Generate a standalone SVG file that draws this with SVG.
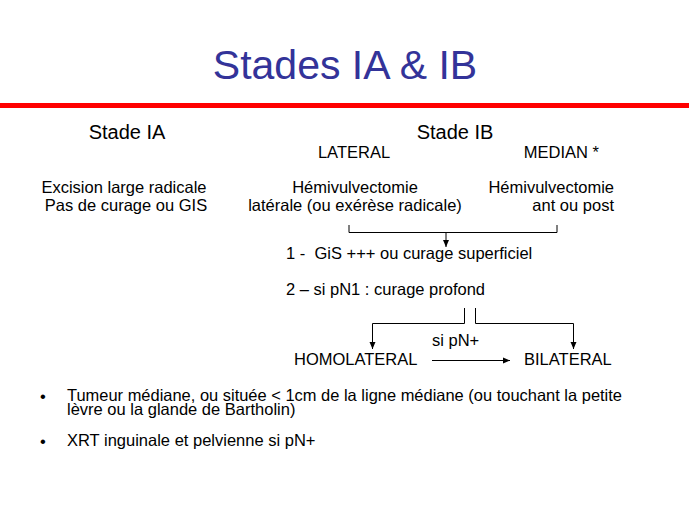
<svg xmlns="http://www.w3.org/2000/svg" width="689" height="517" viewBox="0 0 689 517">
<defs>
<marker id="ah" markerWidth="8" markerHeight="8" refX="7" refY="4" orient="auto" markerUnits="userSpaceOnUse">
<path d="M0,1 L7,4 L0,7 Z" fill="#000"/>
</marker>
<style>
text{font-family:"Liberation Sans",Arial,sans-serif;fill:#000;font-size:16.5px}
.title{font-size:41px;fill:#333399}
.h{font-size:20px}
.c{text-anchor:middle}
.r{text-anchor:end}
.ln{stroke:#000;stroke-width:1;fill:none}
</style>
</defs>
<rect width="689" height="517" fill="#fff"/>
<g id="title">
<text class="title c" x="345" y="79">Stades IA &amp; IB</text>
<rect x="0" y="103" width="689" height="5" fill="#f00"/>
</g>
<g id="stadeIA">
<text class="h c" x="127" y="139">Stade IA</text>
<text class="c" x="124" y="193">Excision large radicale</text>
<text class="c" x="126" y="211">Pas de curage ou GIS</text>
</g>
<g id="stadeIB">
<text class="h c" x="455" y="139">Stade IB</text>
</g>
<g id="lateral">
<text class="c" x="354" y="158">LATERAL</text>
<text class="c" x="355" y="193">Hémivulvectomie</text>
<text class="c" x="355" y="211">latérale (ou exérèse radicale)</text>
</g>
<g id="median">
<text class="r" x="599" y="158">MEDIAN *</text>
<text class="r" x="614" y="193">Hémivulvectomie</text>
<text class="r" x="614" y="211">ant ou post</text>
</g>
<g id="step1">
<text x="286" y="259">1 -&#160; GiS +++ ou curage superficiel</text>
</g>
<g id="step2">
<text x="286" y="295">2 – si pN1 : curage profond</text>
</g>
<g id="homolateral">
<text x="294" y="365">HOMOLATERAL</text>
</g>
<g id="bilateral">
<text x="524" y="365">BILATERAL</text>
</g>
<g id="connectors">
<path class="ln" d="M349,225 V232.5 H557 V225"/>
<path class="ln" d="M446,232.5 V247" marker-end="url(#ah)"/>
<path class="ln" d="M464.5,308 V323.5 H372.5 V349" marker-end="url(#ah)"/>
<path class="ln" d="M475.5,308 V323.5 H573.5 V349" marker-end="url(#ah)"/>
<path class="ln" d="M432,360.5 H510" marker-end="url(#ah)"/>
<text x="432" y="346">si pN+</text>
</g>
<g id="notes">
<text x="40" y="402">•</text>
<text x="67" y="401" textLength="555" lengthAdjust="spacingAndGlyphs">Tumeur médiane, ou située &lt; 1cm de la ligne médiane (ou touchant la petite</text>
<text x="67" y="415">lèvre ou la glande de Bartholin)</text>
<text x="40" y="447">•</text>
<text x="67" y="446">XRT inguinale et pelvienne si pN+</text>
</g>
</svg>
